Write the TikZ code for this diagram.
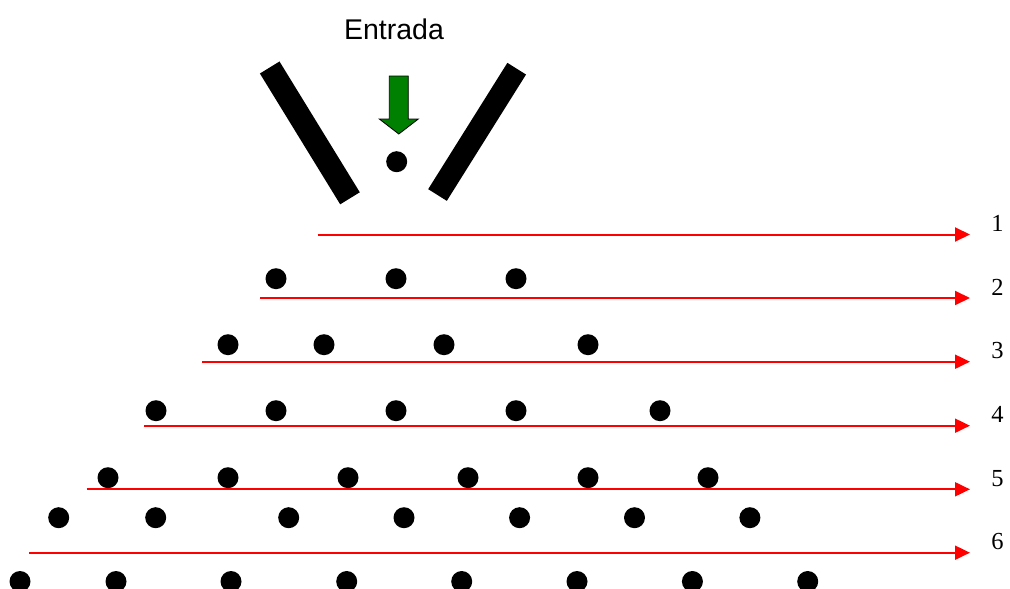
\documentclass[tikz,border=0pt]{standalone}
\usepackage{fontspec}
\setmainfont{Liberation Serif}
\newfontfamily\labelsans{Liberation Sans}
\usetikzlibrary{arrows.meta}
\definecolor{entrygreen}{RGB}{0,128,0}
\tikzset{
  ball/.style={circle,fill=black,inner sep=0pt,minimum size=21pt},
  lane/.style={draw=red,line width=2pt,-{Triangle[length=15pt,width=14pt]}},
  lanelabel/.style={anchor=base,font=\fontsize{24.5}{26}\selectfont,inner sep=0pt},
  wall/.style={draw=black,line width=23pt},
}
\begin{document}
\begin{tikzpicture}[x=1pt,y=-1pt]
\useasboundingbox (0,0) rectangle (1010,589);

% title and inlet arrow
\node[anchor=base,inner sep=0pt,font=\labelsans\fontsize{28.5}{30}\selectfont] (title) at (394,39) {Entrada};
\filldraw[fill=entrygreen,draw=black,line width=0.8pt]
  (389.3,76) -- (408.3,76) -- (408.3,119) -- (418.3,119) -- (398.8,134)
  -- (379.3,119) -- (389.3,119) -- cycle;

% funnel walls
\draw[wall] (269.7,67.5) -- (350,198.3);
\draw[wall,line width=22pt] (516.7,68.7) -- (437.5,195);

% falling ball
\node[ball] (b0) at (396.7,161.7) {};

% lanes with their numbers
\foreach \i/\xs/\y in {1/317.7/234.5, 2/260/298, 3/202.3/361.7, 4/144.3/425.7, 5/86.7/489.3, 6/29/552.7} {
  \coordinate (s\i) at (\xs,\y);
  \coordinate (e\i) at (970,\y);
  \draw[lane] (s\i) -- (e\i);
  \node[lanelabel] (n\i) at (997.5,\y-3) {\i};
}

% rows of balls
\foreach \x [count=\k] in {276,396,516}
  \node[ball] (r2-\k) at (\x,278.7) {};
\foreach \x [count=\k] in {228,324,444,588}
  \node[ball] (r3-\k) at (\x,344.7) {};
\foreach \x [count=\k] in {156,276,396,516,660}
  \node[ball] (r4-\k) at (\x,410.7) {};
\foreach \x [count=\k] in {108,228,348,468,588,708}
  \node[ball] (r5-\k) at (\x,477.7) {};
\foreach \x [count=\k] in {58.7,155.7,288.7,404,519.6,634.5,749.9}
  \node[ball] (r6-\k) at (\x,517.7) {};
\foreach \x [count=\k] in {20,116,231,346.7,461.7,577,692.4,807.7}
  \node[ball] (r7-\k) at (\x,581.5) {};
\end{tikzpicture}
\end{document}
